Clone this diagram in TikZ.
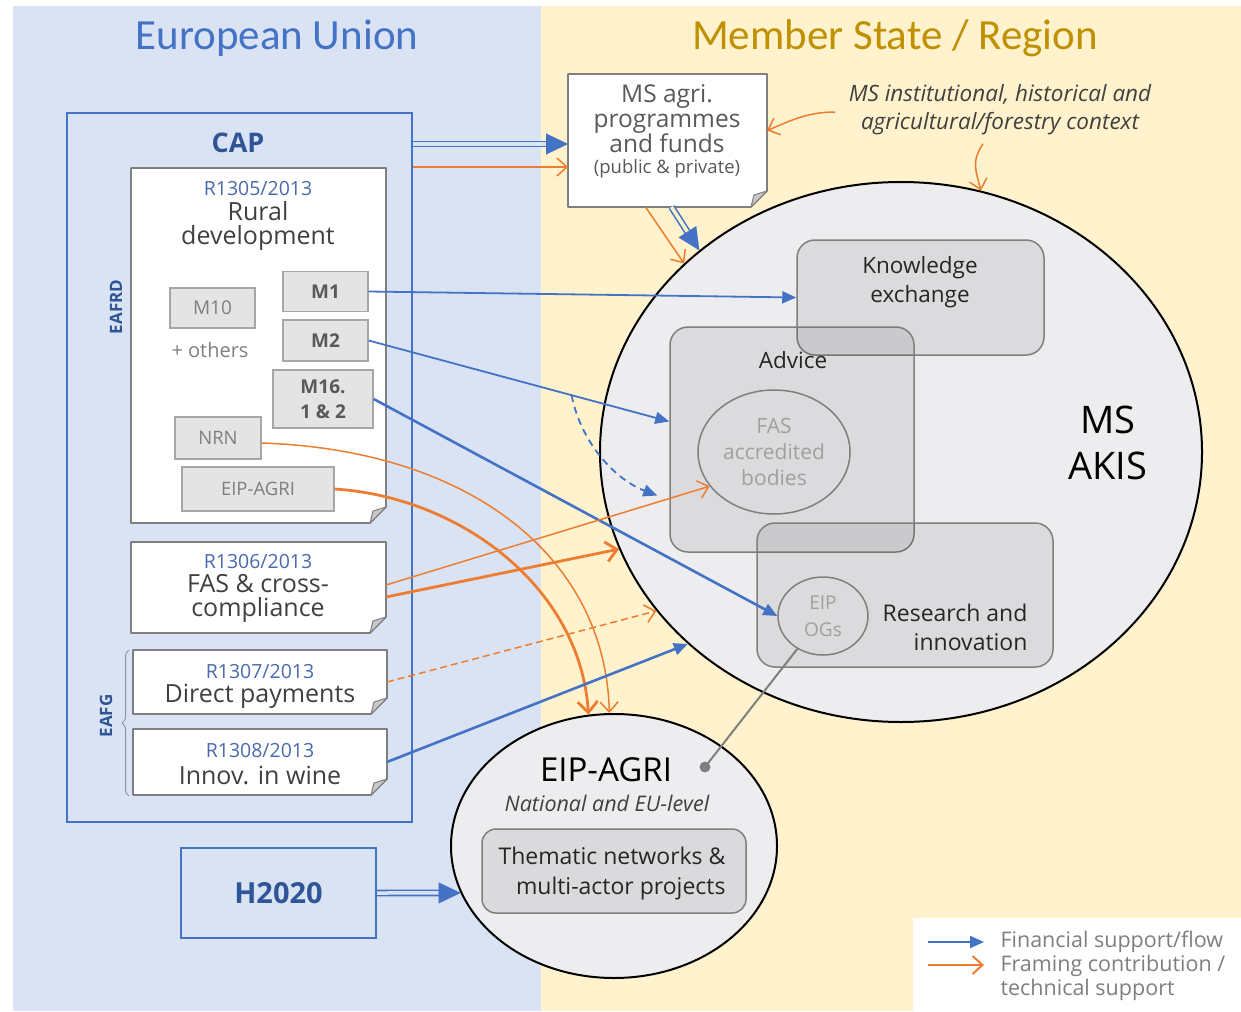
\documentclass[tikz,border=0pt]{standalone}
\usepackage{fontspec}
\setmainfont{Open Sans}
\newfontfamily\calib{Carlito}
\usetikzlibrary{arrows.meta,shapes.geometric,calc,decorations.pathreplacing}
\definecolor{bgblue}{HTML}{DAE3F3}
\definecolor{bgcream}{HTML}{FFF2CC}
\definecolor{eublue}{HTML}{4472C4}
\definecolor{capblue}{HTML}{2F5597}
\definecolor{codeblue}{HTML}{4A6AAF}
\definecolor{msgold}{HTML}{BF9000}
\definecolor{orng}{HTML}{ED7D31}
\definecolor{dkgray}{HTML}{404040}
\definecolor{mdgray}{HTML}{595959}
\definecolor{ltgray}{HTML}{A0A0A0}
\definecolor{linegray}{HTML}{7F7F7F}
\definecolor{mfill}{HTML}{E4E4E4}
\definecolor{mline}{HTML}{A6A6A6}
\definecolor{foldfill}{HTML}{C8C8C8}
\definecolor{circfill}{HTML}{EDEDEF}
\definecolor{bracecol}{HTML}{8497B0}
\newcommand\fsz[2]{\fontsize{#1}{#2}\selectfont}
\newcommand\docbox[5]{%
  \filldraw[docline] (#2,#3) -- (#4,#3) -- (#4,#5-16) -- (#4-16,#5) -- (#2,#5) -- cycle;
  \filldraw[foldline] (#4,#5-16) -- (#4-16,#5) -- (#4-13,#5-12) -- cycle;
  \node[boxanchor, minimum width=#4-#2, minimum height=#5-#3] (#1) at ({(#2+#4)/2},{(#3+#5)/2}) {};
}
\newcommand\dblarrow[3]{%
  \draw[dblline, double=#3, shorten >=18pt] (#1) -- (#2);
  \draw[dbltip] ($(#2)!22pt!(#1)$) -- (#2);
}
\begin{document}
\begin{tikzpicture}[x=1pt,y=-1pt,
  docline/.style={draw=linegray, fill=white, line width=1.6pt, line join=round},
  foldline/.style={draw=linegray, fill=foldfill, line width=1pt, line join=round},
  boxanchor/.style={rectangle, inner sep=0pt, outer sep=0pt},
  mbox/.style={rectangle, draw=mline, fill=mfill, line width=1.3pt, inner sep=0pt, text=mdgray, font=\fsz{19}{24}\bfseries, align=center},
  mboxlt/.style={mbox, font=\fsz{19}{24}, text=linegray},
  codetxt/.style={font=\fsz{19.5}{22}, text=codeblue},
  doctxt/.style={font=\fsz{25}{24}, text=dkgray, align=center},
  akisbox/.style={rectangle, rounded corners=18pt, draw=linegray, line width=1.5pt, fill=black, fill opacity=0.075, draw opacity=1, inner sep=0pt},
  innertxt/.style={font=\fsz{22.5}{29}, text=black!85, align=center},
  bluearr/.style={draw=eublue, line width=1.8pt, -{Triangle[length=14pt,width=12pt]}},
  bluethick/.style={bluearr, line width=2.6pt},
  orarr/.style={draw=orng, line width=1.5pt, -{Straight Barb[length=10pt,width=18pt]}},
  orthick/.style={draw=orng, line width=2.8pt, -{Straight Barb[length=11pt,width=20pt]}},
  ordashed/.style={orarr, dash pattern=on 7pt off 4pt},
  dblline/.style={draw=eublue, line width=1.6pt, double distance=3.5pt},
  dbltip/.style={draw=eublue, line width=0.1pt, -{Triangle[length=22pt,width=21pt]}}
]
\useasboundingbox (0,0) rectangle (1241,1011);
\fill[white] (0,0) rectangle (1241,1011);
\fill[bgblue] (13,6) rectangle (541,1011);
\fill[bgcream] (541,6) rectangle (1241,1011);

\node[font=\calib\fsz{43}{50}, text=eublue] (eutitle) at (277,38) {European Union};
\node[font=\calib\fsz{43}{50}, text=msgold] (mstitle) at (895,38) {Member State / Region};

% CAP
\node[draw=eublue, line width=2pt, minimum width=345, minimum height=709, inner sep=0pt] (cap) at (239.5,467.5) {};
\node[font=\fsz{27}{30}\bfseries, text=capblue] (captxt) at (238,143) {CAP};

\docbox{r1305}{131}{168}{386}{523}
\node[codetxt] (r1305code) at (258,189) {R1305/2013};
\node[doctxt] (r1305txt) at (258,226) {Rural\\development};

\node[mbox, minimum width=85, minimum height=40] (m1) at (325.5,291.5) {M1};
\node[mboxlt, minimum width=85, minimum height=40] (m10) at (212.5,308) {M10};
\node[font=\fsz{20}{24}, text=linegray] (others) at (210,350) {+ others};
\node[mbox, minimum width=85, minimum height=41] (m2) at (325.5,340.5) {M2};
\node[mbox, minimum width=100, minimum height=58, font=\fsz{19}{25}\bfseries] (m16) at (323,399) {M16.\\1 \& 2};
\node[mboxlt, minimum width=86, minimum height=42, font=\fsz{18.5}{22}] (nrn) at (218,438) {NRN};
\node[mboxlt, minimum width=152, minimum height=44, font=\fsz{18.5}{22}] (eipsmall) at (258,489) {EIP-AGRI};
\node[rotate=90, font=\fsz{17}{20}\bfseries, text=capblue] (eafrd) at (116,307) {EAFRD};

\docbox{r1306}{131}{542}{386}{633}
\node[codetxt] (r1306code) at (258,562) {R1306/2013};
\node[doctxt] (r1306txt) at (258,598) {FAS \& cross-\\compliance};

\docbox{r1307}{133}{650}{387}{714}
\node[codetxt] (r1307code) at (260,672) {R1307/2013};
\node[doctxt] (r1307txt) at (260,696) {Direct payments};

\docbox{r1308}{133}{729}{387}{795}
\node[codetxt] (r1308code) at (260,751) {R1308/2013};
\node[doctxt] (r1308txt) at (260,775) {Innov. in wine};

\draw[bracecol, line width=1pt, decorate, decoration={brace, amplitude=7pt}] (129,796) -- (129,650);
\node[rotate=90, font=\fsz{17}{20}\bfseries, text=capblue] (eafg) at (106,716) {EAFG};

\node[draw=eublue, line width=2pt, minimum width=195, minimum height=90, inner sep=0pt, font=\fsz{29}{32}\bfseries, text=capblue] (h2020) at (278.5,893) {H2020};

% MS agri
\docbox{msagri}{568}{74}{767}{207}
\node[font=\fsz{24.5}{25}, text=mdgray, align=center] (msagritxt) at (667,119) {MS agri.\\programmes\\and funds};
\node[font=\fsz{18.5}{20}, text=mdgray] (msagripp) at (667,169) {(public \& private)};

\node[font=\fsz{22.5}{28}\itshape, text=dkgray, align=center] (ctx) at (1000,110) {MS institutional, historical and\\agricultural/forestry context};

% AKIS
\node[ellipse, draw=black, line width=2pt, fill=circfill, minimum width=602, minimum height=540, inner sep=0pt] (akis) at (901,452) {};
\node[akisbox, minimum width=247, minimum height=115] (ke) at (920.5,297.5) {};
\node[akisbox, minimum width=244, minimum height=225] (advice) at (792,439.5) {};
\node[akisbox, minimum width=296, minimum height=144] (ri) at (905,595) {};
\node[innertxt] (ketxt) at (920,282) {Knowledge\\exchange};
\node[innertxt] (advtxt) at (793,360) {Advice};
\node[ellipse, draw=linegray, line width=1.5pt, minimum width=152, minimum height=124, inner sep=0pt] (fas) at (774,452) {};
\node[font=\fsz{21}{26}, text=ltgray, align=center] (fastxt) at (774,452) {FAS\\accredited\\bodies};
\node[ellipse, draw=linegray, line width=1.5pt, minimum width=90, minimum height=78, inner sep=0pt] (eipogs) at (823,616) {};
\node[font=\fsz{19}{27}, text=ltgray, align=center] (ogtxt) at (823,616) {EIP\\OGs};
\node[innertxt, font=\fsz{23}{29}, align=right, anchor=east] (ritxt) at (1031,627) {Research and\\innovation};
\node[font=\fsz{38}{46}, align=center] (akistxt) at (1108,443) {MS\\AKIS};

% EIP-AGRI
\node[ellipse, draw=black, line width=2pt, fill=circfill, minimum width=326, minimum height=264, inner sep=0pt] (eipagri) at (614,846) {};
\node[font=\fsz{33}{36}] (eiptitle) at (606,770) {EIP-AGRI};
\node[font=\fsz{21.5}{22}\itshape, text=dkgray] (eiplevel) at (607,803) {National and EU-level};
\node[rectangle, rounded corners=14pt, draw=linegray, line width=1.5pt, fill=black, fill opacity=0.08, draw opacity=1, minimum width=264, minimum height=84, inner sep=0pt] (thematic) at (614,871) {};
\node[font=\fsz{23}{30}, align=right, anchor=east, text=black!85] (thtxt) at (729,874) {Thematic networks \&\\multi-actor projects};

\node[circle, fill=linegray, minimum size=11, inner sep=0pt] (ogdot) at (705,767) {};
\draw[linegray, line width=2pt] (ogdot.center) -- (eipogs.232);

% arrows
\coordinate (capA) at ([yshift=-32pt]cap.north east);
\coordinate (capAe) at (capA -| msagri.west);
\dblarrow{capA}{capAe}{bgblue}
\coordinate (capB) at ([yshift=-55pt]cap.north east);
\coordinate (capBe) at (capB -| msagri.west);
\draw[orarr] (capB) -- (capBe);

\coordinate (msA) at ([xshift=4pt]msagri.south);
\dblarrow{msA}{akis.135}{bgcream}
\coordinate (msB) at ([xshift=-22pt]msagri.south);
\draw[orarr] (msB) -- (akis.139);

\coordinate (ctxA) at ([xshift=-10pt,yshift=-2pt]ctx.west);
\coordinate (msagriR) at ([yshift=10pt]msagri.east);
\draw[orarr] (ctxA) .. controls +(-30,0) and +(20,-8) .. (msagriR);
\coordinate (ctxB) at ([xshift=-17pt,yshift=-5pt]ctx.south);
\draw[orarr] (ctxB) .. controls +(-12,18) and +(-5,-20) .. (akis.73);

\draw[bluearr] (m1.east) -- (ke.west);
\coordinate (m2s) at (m2.east);
\coordinate (advA) at ([yshift=18pt]advice.west);
\draw[bluearr] (m2s) -- (advA);
\coordinate (dashs) at ($(m2s)!0.675!(advA)$);
\coordinate (advB) at ([xshift=-12pt,yshift=-56pt]advice.west);
\draw[bluearr, dash pattern=on 7pt off 5pt] (dashs) .. controls +(10,50) and +(-40,-15) .. (advB);
\draw[bluethick] (m16.east) -- (eipogs.west);

\draw[orarr] ([yshift=-5pt]nrn.east) .. controls +(209,7) and +(-4,-156) .. (eipagri.92);
\draw[orthick] (eipsmall.east) .. controls +(126,8) and +(-8,-127) .. (eipagri.101);

\draw[orarr] ([yshift=2.5pt]r1306.east) -- (fas.208);
\draw[orthick] ([yshift=-9.5pt]r1306.east) -- (akis.199);
\draw[ordashed] (r1307.east) -- (akis.213);
\draw[bluethick] (r1308.east) -- (akis.222);

\dblarrow{h2020.east}{eipagri.197}{bgblue}

% legend
\node[rectangle, fill=white, minimum width=328, minimum height=93, inner sep=0pt, anchor=north west] (legend) at (913,918) {};
\coordinate (lgA) at (928,942);
\coordinate (lgAe) at (984,942);
\coordinate (lgB) at (928,965);
\coordinate (lgBe) at (984,965);
\draw[bluearr, line width=2pt] (lgA) -- (lgAe);
\draw[orarr, line width=2pt] (lgB) -- (lgBe);
\node[font=\fsz{21.5}{24}, text=linegray, align=left, anchor=west] (lgtxt) at (997,966) {Financial support/flow\\Framing contribution /\\technical support};
\end{tikzpicture}
\end{document}
